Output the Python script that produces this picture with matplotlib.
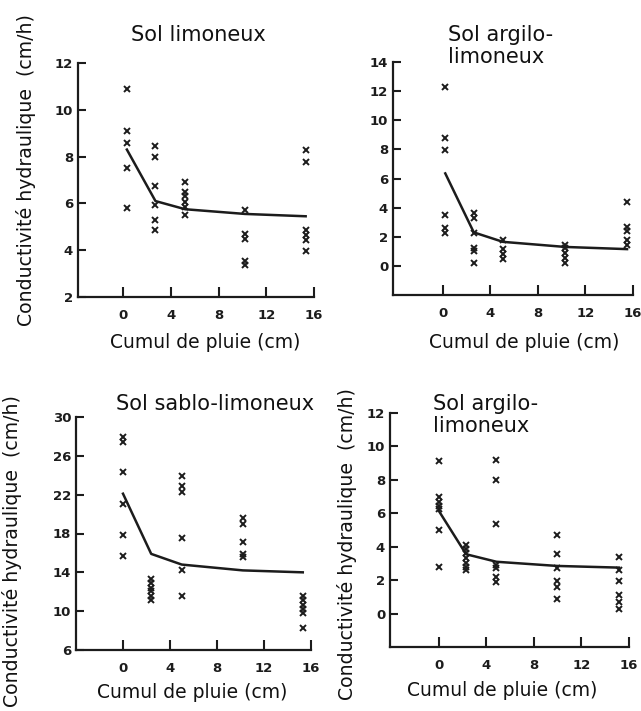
import matplotlib
matplotlib.use("Agg")
import matplotlib.pyplot as plt

# Conductivité hydraulique en fonction du cumul de pluie, 4 types de sol
W, H = 641, 711

# Sol limoneux
limon_x = [0.3, 2.7, 5.2, 10.2, 15.3]
limon_pts = [[10.9, 9.1, 8.6, 7.5, 5.8],
             [8.45, 8.0, 6.75, 5.95, 5.3, 4.85],
             [6.9, 6.5, 6.3, 6.05, 5.85, 5.5],
             [5.7, 4.7, 4.5, 3.55, 3.35],
             [8.3, 7.75, 4.85, 4.65, 4.45, 3.95]]
limon_courbe = [8.3, 6.1, 5.75, 5.55, 5.45]

# Sol argilo-limoneux (haut)
argilo1_x = [0.2, 2.6, 5.05, 10.3, 15.5]
argilo1_pts = [[12.25, 8.8, 7.95, 3.5, 2.6, 2.25],
               [3.6, 3.3, 2.25, 1.25, 1.0, 0.2],
               [1.8, 1.15, 0.8, 0.45],
               [1.45, 1.25, 0.9, 0.55, 0.2],
               [4.4, 2.7, 2.4, 1.8, 1.4]]
argilo1_courbe = [6.35, 2.3, 1.65, 1.3, 1.15]

# Sol sablo-limoneux
sablo_x = [0.0, 2.4, 5.0, 10.2, 15.3]
sablo_pts = [[27.9, 27.4, 24.3, 21.0, 17.8, 15.7],
             [13.3, 12.9, 12.4, 12.1, 11.6, 11.1],
             [23.9, 22.9, 22.3, 17.5, 14.2, 11.6],
             [19.6, 19.0, 17.1, 15.9, 15.6],
             [11.6, 11.1, 10.6, 10.2, 9.8, 8.3]]
sablo_courbe = [22.1, 15.9, 14.8, 14.2, 14.0]

# Sol argilo-limoneux (bas)
argilo2_x = [0.0, 2.3, 4.85, 9.95, 15.15]
argilo2_pts = [[9.1, 6.95, 6.7, 6.45, 6.25, 5.0, 2.8],
               [4.1, 3.85, 3.6, 3.35, 3.05, 2.8, 2.6],
               [9.2, 8.0, 5.35, 2.9, 2.7, 2.2, 1.9],
               [4.7, 3.55, 2.75, 1.95, 1.6, 0.9],
               [3.4, 2.6, 1.95, 1.1, 0.7, 0.3]]
argilo2_courbe = [6.15, 3.55, 3.1, 2.85, 2.75]

x_ticks = [0, 4, 8, 12, 16]

ink = "#1c1c1c"

fig = plt.figure(figsize=(W / 100, H / 100), dpi=100)
fig.patch.set_facecolor("white")


def rect(left, top, right, bottom):
    return [left / W, 1 - bottom / H, (right - left) / W, (bottom - top) / H]


def txt(x, y, s, **kw):
    fig.text(x / W, 1 - y / H, s, color="#111111", family="DejaVu Sans", **kw)


def panneau(box, xs, pts, courbe, xlim, ylim, yticks):
    ax = fig.add_axes(rect(*box))
    px = [x for x, col in zip(xs, pts) for _ in col]
    py = [v for col in pts for v in col]
    ax.plot(px, py, linestyle="none", marker="x", markersize=5,
            markeredgewidth=1.4, color=ink)
    ax.plot(xs, courbe, color=ink, linewidth=1.8)
    ax.set_xlim(*xlim)
    ax.set_ylim(*ylim)
    ax.set_xticks(x_ticks)
    ax.set_yticks(yticks)
    for s in ("top", "right"):
        ax.spines[s].set_visible(False)
    for s in ("left", "bottom"):
        ax.spines[s].set_linewidth(1.6)
        ax.spines[s].set_color(ink)
    ax.tick_params(axis="x", direction="in", length=7, width=1.5, pad=8.5,
                   colors=ink, labelsize=9.5)
    ax.tick_params(axis="y", direction="in", length=5.5, width=1.5, pad=3.5,
                   colors=ink, labelsize=9.5)
    for lab in ax.get_xticklabels() + ax.get_yticklabels():
        lab.set_fontweight("bold")
    ax.patch.set_alpha(0)
    return ax


panneau((78, 63, 314, 297), limon_x, limon_pts, limon_courbe,
        (-3.8, 16), (2, 12), range(2, 13, 2))
panneau((393, 62, 633, 295), argilo1_x, argilo1_pts, argilo1_courbe,
        (-4.2, 16), (-2, 14), range(0, 15, 2))
panneau((76, 417, 311, 650), sablo_x, sablo_pts, sablo_courbe,
        (-4.0, 16), (6, 30), range(6, 31, 4))
panneau((390, 413, 629, 647), argilo2_x, argilo2_pts, argilo2_courbe,
        (-4.1, 16), (-2, 12), range(0, 13, 2))

# titres
txt(198, 25, "Sol limoneux", fontsize=15, ha="center", va="top")
txt(448, 25, "Sol argilo-\nlimoneux", fontsize=15, ha="left", va="top",
    linespacing=1.15)
txt(215, 394, "Sol sablo-limoneux", fontsize=15, ha="center", va="top")
txt(433, 394, "Sol argilo-\nlimoneux", fontsize=15, ha="left", va="top",
    linespacing=1.15)

# axes x
for x, y in [(205, 342), (524, 342), (192, 693), (502, 691)]:
    txt(x, y, "Cumul de pluie (cm)", fontsize=13.5, ha="center", va="center")

# axes y
ylab = "Conductivité hydraulique  (cm/h)"
for x, y in [(26, 170), (12, 551), (347, 544)]:
    txt(x, y, ylab, fontsize=13.6, rotation=90, ha="center", va="center")

fig.savefig("out.png", dpi=100, facecolor="white")
